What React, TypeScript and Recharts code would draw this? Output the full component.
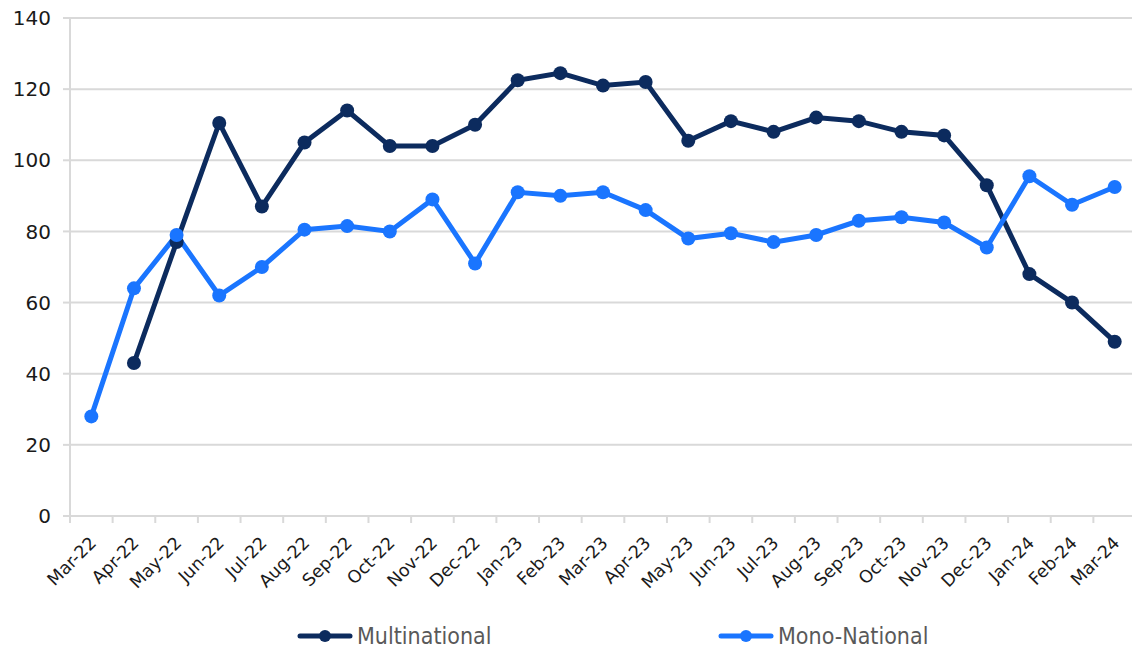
import React from 'react';
import { LineChart, Line, XAxis, YAxis, CartesianGrid, Legend } from 'recharts';

const months = [
  'Mar-22', 'Apr-22', 'May-22', 'Jun-22', 'Jul-22', 'Aug-22', 'Sep-22', 'Oct-22', 'Nov-22',
  'Dec-22', 'Jan-23', 'Feb-23', 'Mar-23', 'Apr-23', 'May-23', 'Jun-23', 'Jul-23', 'Aug-23',
  'Sep-23', 'Oct-23', 'Nov-23', 'Dec-23', 'Jan-24', 'Feb-24', 'Mar-24',
];

const multinational: (number | null)[] = [
  null, 43, 77, 110.5, 87, 105, 114, 104, 104, 110, 122.5, 124.5, 121, 122, 105.5,
  111, 108, 112, 111, 108, 107, 93, 68, 60, 49,
];

const monoNational = [
  28, 64, 79, 62, 70, 80.5, 81.5, 80, 89, 71, 91, 90, 91, 86, 78, 79.5, 77, 79,
  83, 84, 82.5, 75.5, 95.5, 87.5, 92.5,
];

const yTicks = [0, 20, 40, 60, 80, 100, 120, 140];

const NAVY = '#0c2b5e';
const BLUE = '#1a75ff';
const GRID = '#d9d9d9';
const FONT = '"DejaVu Sans", Verdana, sans-serif';

const CHART_W = 1136;
const PLOT_LEFT = 70;
const halfBand = (CHART_W - PLOT_LEFT) / months.length / 2;

const data = months.map((m, i) => ({
  month: m,
  multi: multinational[i],
  mono: monoNational[i],
}));

// label centred on the category, tick marks on the category boundaries (Excel style)
const MonthTick = ({ x, y, payload, index }: any) => {
  const axisY = y - 9;
  return (
    <g>
      <line x1={x - halfBand} y1={axisY} x2={x - halfBand} y2={axisY + 7} stroke={GRID} strokeWidth={2} />
      {index === months.length - 1 && (
        <line x1={x + halfBand} y1={axisY} x2={x + halfBand} y2={axisY + 7} stroke={GRID} strokeWidth={2} />
      )}
      <text
        x={x + 6}
        y={y + 19}
        transform={`rotate(-45, ${x + 6}, ${y + 19})`}
        textAnchor="end"
        fill="#1a1a1a"
        fontSize={17.5}
        fontFamily={FONT}
      >
        {payload.value}
      </text>
    </g>
  );
};

const LegendIcon = ({ color }: { color: string }) => (
  <svg width={56} height={16} style={{ display: 'block' }}>
    <line x1={3} y1={8} x2={53} y2={8} stroke={color} strokeWidth={5} strokeLinecap="round" />
    <circle cx={28} cy={8} r={6} fill={color} />
  </svg>
);

const ChartLegend = () => (
  <div style={{ display: 'flex', alignItems: 'center', height: 26, paddingLeft: 297 }}>
    {[
      { name: 'Multinational', color: NAVY, width: 421 },
      { name: 'Mono-National', color: BLUE, width: 260 },
    ].map((item) => (
      <div key={item.name} style={{ display: 'flex', alignItems: 'center', width: item.width }}>
        <LegendIcon color={item.color} />
        <span
          style={{
            marginLeft: 4,
            fontFamily: '"DejaVu Sans Condensed", "DejaVu Sans", sans-serif',
            fontStretch: 'condensed',
            fontSize: 23,
            color: '#595959',
            lineHeight: '26px',
          }}
        >
          {item.name}
        </span>
      </div>
    ))}
  </div>
);

const App: React.FC = () => {
  return (
    <div style={{ position: 'absolute', left: 0, top: 0, width: 1132, height: 649, overflow: 'hidden', background: '#fff' }}>
      <LineChart width={CHART_W} height={649} data={data} margin={{ top: 18, right: 0, left: 0, bottom: 0 }}>
        <CartesianGrid vertical={false} stroke={GRID} strokeWidth={2} />
        <XAxis
          dataKey="month"
          interval={0}
          height={107}
          padding={{ left: halfBand, right: halfBand }}
          stroke={GRID}
          strokeWidth={2}
          tickLine={false}
          tickSize={7}
          tick={<MonthTick />}
        />
        <YAxis
          domain={[0, 140]}
          ticks={yTicks}
          width={70}
          stroke={GRID}
          strokeWidth={2}
          tickSize={7}
          tickMargin={12}
          tickLine={{ stroke: GRID, strokeWidth: 2 }}
          tick={{ fill: '#1a1a1a', fontSize: 20, fontFamily: FONT }}
        />
        <Legend verticalAlign="bottom" content={<ChartLegend />} wrapperStyle={{ left: 0, width: CHART_W }} />
        <Line
          dataKey="multi"
          name="Multinational"
          stroke={NAVY}
          strokeWidth={5}
          dot={{ r: 7, fill: NAVY, stroke: NAVY, strokeWidth: 0 }}
          activeDot={false}
          isAnimationActive={false}
        />
        <Line
          dataKey="mono"
          name="Mono-National"
          stroke={BLUE}
          strokeWidth={5}
          dot={{ r: 7, fill: BLUE, stroke: BLUE, strokeWidth: 0 }}
          activeDot={false}
          isAnimationActive={false}
        />
      </LineChart>
    </div>
  );
};

export default App;
